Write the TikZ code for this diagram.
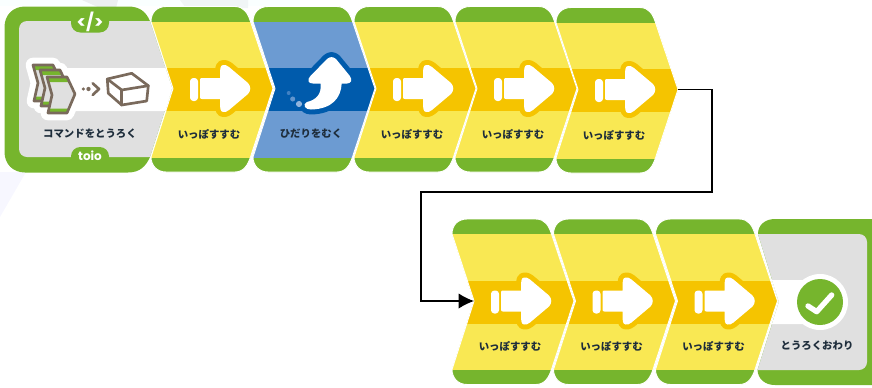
\documentclass[tikz,border=0pt]{standalone}
\usepackage{fontspec}
\setmainfont{Noto Sans CJK JP}
\newfontfamily\tabfont{Poppins}
\usetikzlibrary{arrows.meta}

\definecolor{blockgreen}{HTML}{76B52D}
\definecolor{lightyellow}{HTML}{F9E853}
\definecolor{darkyellow}{HTML}{F5C400}
\definecolor{lightblue}{HTML}{6C9BD2}
\definecolor{darkblue}{HTML}{005BAC}
\definecolor{paneGray}{HTML}{E0E0E0}
\definecolor{iconbrown}{HTML}{7A6A5C}
\definecolor{labelink}{HTML}{1E2D3B}

\tikzset{
  blocklabel/.style={font=\bfseries\fontsize{7.8}{9}\selectfont, text=labelink, inner sep=0pt},
  tablabel/.style={font=\tabfont\bfseries\fontsize{#1}{14}\selectfont, text=white, inner sep=0pt},
  iconline/.style={draw=iconbrown, line width=2pt, line join=round, line cap=round},
  flow/.style={draw=black, line width=1pt, -{Latex[length=11.5pt,width=11.5pt]}},
  gapline/.style={draw=white, line width=.7pt},
  halo/.style={preaction={draw=#1, line width=7.5pt, line join=round}}
}

\newcommand{\blockpath}{(0,15) .. controls (0,6) and (6,0) .. (15,0) -- (84,0) .. controls (93,0) and (97,7) .. (99.5,15) -- (122,82) -- (99.5,150.5) .. controls (97,158) and (93,165.5) .. (84,165.5) -- (15,165.5) .. controls (6,165.5) and (0,159) .. (0,150.5) -- (22,82) -- cycle}
\newcommand{\cardpath}{(47,77) -- (67,77) -- (75,94) -- (67,113) -- (48,113) -- (52,95) -- cycle}

% name, x, y, light colour, band colour, label
\newcommand{\stepblock}[6]{
  \begin{scope}[shift={(#2,#3)}]
    \begin{scope}
      \clip \blockpath;
      \fill[blockgreen] (-2,-2) rectangle (125,168);
      \fill[#4] (-2,15) rectangle (125,151);
      \fill[#5] (-2,61.5) rectangle (125,104.5);
    \end{scope}
    \path[gapline] \blockpath;
    \coordinate (#1tip) at (122,82);
    \coordinate (#1notch) at (22,82);
    \node[blocklabel] (#1) at (58,127.5) {#6};
  \end{scope}
}

\newcommand{\forwardarrow}[2]{
  \begin{scope}[shift={(#1,#2)}]
    \path[fill=white, halo=darkyellow]
      (51,71.5) -- (69,71.5) .. controls (69,62) and (69,59) .. (72,58.5) .. controls (74,58) and (76,59) .. (78,60.5)
      -- (97,76.5) .. controls (100,79.5) and (100,84.5) .. (97,87.5)
      -- (78,103.5) .. controls (76,105) and (74,106) .. (72,105.5) .. controls (69,105) and (69,102) .. (69,92.5)
      -- (51,92.5) .. controls (49.5,92.5) and (49,92) .. (49,90.5) -- (49,73.5) .. controls (49,72) and (49.5,71.5) .. (51,71.5) -- cycle;
    \fill[white, rounded corners=2.5pt] (39,71.5) rectangle (47,94.5);
  \end{scope}
}

\begin{document}
\begin{tikzpicture}[x=.75pt,y=-.75pt]
  \useasboundingbox (0,0) rectangle (872,387);
  % pale background
  \fill[blue!3!cyan!2] (0,0) rectangle (300,6);
  \fill[cyan!15!gray!15] (82,0) -- (118,0) -- (116,8) -- (100,8) -- cycle;
  \fill[cyan!25!gray!10] (180,0) -- (248,0) -- (248,8) -- (186,8) -- cycle;
  \fill[blue!3] (0,172) -- (26,172) -- (0,217) -- cycle;

  % first block
  \path[fill=blockgreen] (4.5,27) .. controls (4.5,15) and (13,6.5) .. (25,6.5) -- (128,6.5) .. controls (140,6.5) and (146,12) .. (150,21) -- (172,88) -- (150,157) .. controls (146,166) and (140,172.5) .. (128,172.5) -- (25,172.5) .. controls (13,172.5) and (4.5,164) .. (4.5,152) -- cycle;
  \path[fill=paneGray] (150,21) -- (172,88) -- (150,157) [rounded corners=6pt] -- (19,157) -- (19,21) [sharp corners] -- cycle;
  \fill[white] (60,68) -- (165.5,68) -- (172,88) -- (165.5,111) -- (60,111) -- cycle;
  \fill[blockgreen, rounded corners=7pt] (71,10) rectangle (109,32.5);
  \fill[blockgreen, rounded corners=7pt] (71,147) rectangle (109,169);
  \node[tablabel=13] (codetab) at (90,22) {</>};
  \node[tablabel=9] (toiotab) at (90,156) {toio};
  \node[blocklabel] (record) at (90,134) {コマンドをとうろく};
  % cards
  \foreach \dx/\dy in {-14/-12,-7/-7,0/0} {
    \path[draw=white, line width=11pt, line join=round, shift={(\dx,\dy)}] \cardpath;
  }
  \foreach \dx/\dy in {-14/-12,-7/-7,0/0} {
    \begin{scope}[shift={(\dx,\dy)}]
      \fill[paneGray] \cardpath;
      \fill[blockgreen] (47,77) -- (67,77) -- (69,82) -- (48,82) -- cycle;
      \fill[blockgreen] (48,113) -- (67,113) -- (69,108.5) -- (49,108.5) -- cycle;
      \path[iconline] \cardpath;
    \end{scope}
  }
  \fill[iconbrown] (83.3,89) circle (1.3pt);
  \fill[iconbrown] (88.5,89) circle (1.6pt);
  \path[iconline] (92.7,83.3) -- (99,89) -- (92.7,95);
  % box
  \path[iconline] (107.3,79) -- (131.7,73.3) -- (148.3,85.7) -- (146.7,101) -- (121.7,105) -- (108.3,93.3) -- cycle;
  \path[iconline] (107.3,79) -- (121.7,90) -- (148.3,85.7);
  \path[iconline] (121.7,90) -- (121.7,105);

  % first row
  \stepblock{fwdA}{151}{6.5}{lightyellow}{darkyellow}{いっぽすすむ}
  \forwardarrow{151}{6.5}
  \stepblock{turn}{253}{6.5}{lightblue}{darkblue}{ひだりをむく}
  \path[fill=white, halo=darkblue]
    (327,59) .. controls (330,56.5) and (333,56.5) .. (336,59) -- (349.5,75.5) .. controls (353,80) and (351,83.5) .. (347,83.5) -- (341.7,83.5)
    .. controls (341,98) and (332,109) .. (311,109.5) .. controls (305,110) and (302,104) .. (307,102)
    .. controls (316,100) and (322,94) .. (320.5,83.5) -- (313,83.5) .. controls (308,83.5) and (307,80) .. (310,76.5) -- cycle;
  \fill[lightblue!75!white] (299,104) circle (2.3pt);
  \fill[lightblue!90!darkblue] (292.7,99) circle (1.9pt);
  \fill[lightblue!60!darkblue] (288.7,93) circle (1.5pt);
  \stepblock{fwdB}{354}{6.5}{lightyellow}{darkyellow}{いっぽすすむ}
  \forwardarrow{354}{6.5}
  \stepblock{fwdC}{455}{6.5}{lightyellow}{darkyellow}{いっぽすすむ}
  \forwardarrow{455}{6.5}
  \stepblock{fwdD}{556}{7.5}{lightyellow}{darkyellow}{いっぽすすむ}
  \forwardarrow{556}{7.5}

  % second row
  \stepblock{fwdE}{452}{219}{lightyellow}{darkyellow}{いっぽすすむ}
  \forwardarrow{452}{219}
  \stepblock{fwdF}{553.5}{219}{lightyellow}{darkyellow}{いっぽすすむ}
  \forwardarrow{553.5}{219}
  \stepblock{fwdG}{655.5}{219}{lightyellow}{darkyellow}{いっぽすすむ}
  \forwardarrow{655.5}{219}

  % last block
  \path[fill=blockgreen] (758,234) .. controls (758,225) and (765,219) .. (775,219) -- (872,219) -- (872,385) -- (775,385) .. controls (765,385) and (758,379) .. (757.5,370) -- (779,302) -- cycle;
  \path[fill=paneGray] (758,234) [rounded corners=6pt] -- (867,234) -- (867,370) [sharp corners] -- (757.5,370) -- (779,302) -- cycle;
  \fill[white] (772,280) -- (820,280) -- (820,324) -- (772,324) -- (779,302) -- cycle;
  \fill[white] (820,302) circle (21pt);
  \node[circle, fill=blockgreen, minimum size=34.5pt, inner sep=0pt] (done) at (820,302) {};
  \draw[white, line width=4pt, line cap=round, line join=round] (808,306) -- (816.7,311.7) -- (831.7,295);
  \node[blocklabel] (finish) at (817,346) {とうろくおわり};

  % connector
  \coordinate (turnA) at (712,192);
  \coordinate (turnB) at (421,192);
  \draw[flow] (fwdDtip) -| (turnA) -- (turnB) |- (fwdEnotch);
\end{tikzpicture}
\end{document}
